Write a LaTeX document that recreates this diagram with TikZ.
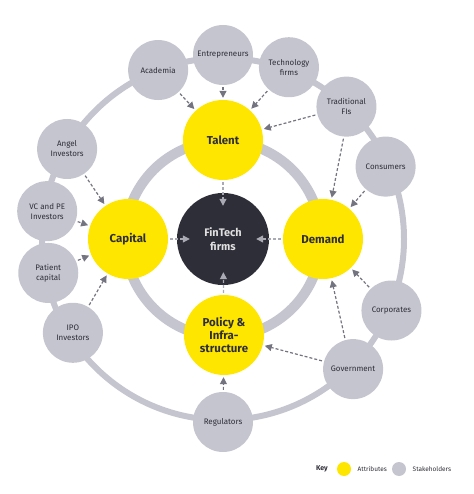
\documentclass[tikz,border=0pt]{standalone}
\usepackage{fontspec}
\setmainfont{Fira Sans}
\usepackage{tikz}
\usetikzlibrary{positioning, arrows.meta, calc}
\definecolor{attrFill}{RGB}{255,230,  0}
\definecolor{stakeFill}{RGB}{197,197,208}
\definecolor{coreFill}{RGB}{ 46, 46, 56}
\definecolor{edgeBase}{RGB}{116,116,128}
\definecolor{edgeLight}{RGB}{170,170,180}
\definecolor{textBase}{RGB}{ 46, 46, 56}
\tikzset{
    attr/.style={
        circle, fill=attrFill, minimum size=80bp, inner sep=0pt,
        align=center, font=\fontsize{11.5}{13.5}\selectfont\bfseries,
        text=textBase,
    },
    stake/.style={
        circle, fill=stakeFill, minimum size=60bp, inner sep=0pt,
        align=center, font=\fontsize{8}{10}\selectfont,
        text=textBase,
    },
    core/.style={
        circle, fill=coreFill, minimum size=92bp, inner sep=0pt,
        align=center, font=\fontsize{11}{13.5}\selectfont\bfseries,
        text=black!12,
    },
    % Edge styles:
    %   feeds -> stakeholder to attribute (dashed, mid grey)
    %   toft  -> attribute to FinTech core (dashed, light grey)
    feeds/.style={
        -{Triangle[length=7bp, width=7bp]}, line width=1.2bp,
        draw=edgeBase, dash pattern=on 3bp off 2bp,
        shorten <=2bp, shorten >=2bp,
    },
    toft/.style={
        -{Triangle[length=7bp, width=7bp]}, line width=1.2bp,
        draw=edgeLight, dash pattern=on 3bp off 2bp,
        shorten <=2bp, shorten >=-13bp,
    },
    ring/.style={draw=stakeFill},
    keytext/.style={font=\fontsize{6.5}{7}\selectfont, text=textBase},
}

\begin{document}
\begin{tikzpicture}[x=1bp, y=1bp]
\useasboundingbox (-223,-255) rectangle (251,239);

% ============================================================
%   Rings (drawn first, sit behind the circles)
% ============================================================
\draw[ring, line width=6bp]  (0,0) circle[radius=181bp];
\draw[ring, line width=10bp] (0,0) circle[radius=98bp];

% ============================================================
%   Nodes
%   - FinTech core in the middle
%   - four attributes on the inner ring
%   - twelve stakeholders on the outer ring
% ============================================================
\node[core] (ft) at (0,0) {FinTech\\firms};

\node[attr] (tal) at (  0,  99) {Talent};
\node[attr] (cap) at (-95,   0) {Capital};
\node[attr] (dem) at (100,   0) {Demand};
\node[attr] (pol) at (  1, -96) {Policy \&\\Infra-\\structure};

\node[stake] (entr)  at ( 90:184) {Entrepreneurs};
\node[stake] (acad)  at (111:181) {Academia};
\node[stake] (tech)  at ( 69:184) {Technology\\firms};
\node[stake] (tfi)   at ( 47:181) {Traditional\\FIs};
\node[stake] (cons)  at ( 24:178) {Consumers};
\node[stake] (corp)  at (-23:183) {Corporates};
\node[stake] (gov)   at (-45:184) {Government};
\node[stake] (reg)   at (-90:183) {Regulators};
\node[stake] (ipo)   at (212:177) {IPO\\Investors};
\node[stake] (pat)   at (191:178) {Patient\\capital};
\node[stake] (vcpe)  at (171:178) {VC and PE\\Investors};
\node[stake] (angel) at (150:180) {Angel\\Investors};

% ============================================================
%   Edges
% ============================================================

% --- stakeholders -> Talent ---------------------------------
\draw[feeds] (acad) -- (tal);
\draw[feeds] (entr) -- (tal);
\draw[feeds] (tech) -- (tal);
\draw[feeds] (tfi)  -- (tal);

% --- stakeholders -> Demand ---------------------------------
\draw[feeds] (tfi.-95) -- (dem.78);
\draw[feeds] (cons) -- (dem);
\draw[feeds] (corp) -- (dem);
\draw[feeds] (gov.105) -- (dem.-78);

% --- stakeholders -> Policy ---------------------------------
\draw[feeds] (gov) -- (pol);
\draw[feeds] (reg) -- (pol);

% --- stakeholders -> Capital --------------------------------
\draw[feeds] (angel) -- (cap);
\draw[feeds] (vcpe)  -- (cap);
\draw[feeds] (pat)   -- (cap);
\draw[feeds] (ipo)   -- (cap);

% --- attributes -> FinTech ----------------------------------
\draw[toft] (tal) -- (ft);
\draw[toft] (cap) -- (ft);
\draw[toft] (dem) -- (ft);
\draw[toft] (pol) -- (ft);

% ============================================================
%   Key (bottom-right)
% ============================================================
\node[font=\fontsize{7}{8}\selectfont\bfseries, text=textBase]
    (key) at (99,-230) {Key};
\node[circle, fill=attrFill, minimum size=14bp, inner sep=0pt]
    (kattr) at (121,-230) {};
\node[keytext, right=3bp of kattr] (kattrt) {Attributes};
\node[circle, fill=stakeFill, minimum size=14bp, inner sep=0pt]
    (kstake) at (176,-230) {};
\node[keytext, right=3bp of kstake] (kstaket) {Stakeholders};

\end{tikzpicture}
\end{document}
